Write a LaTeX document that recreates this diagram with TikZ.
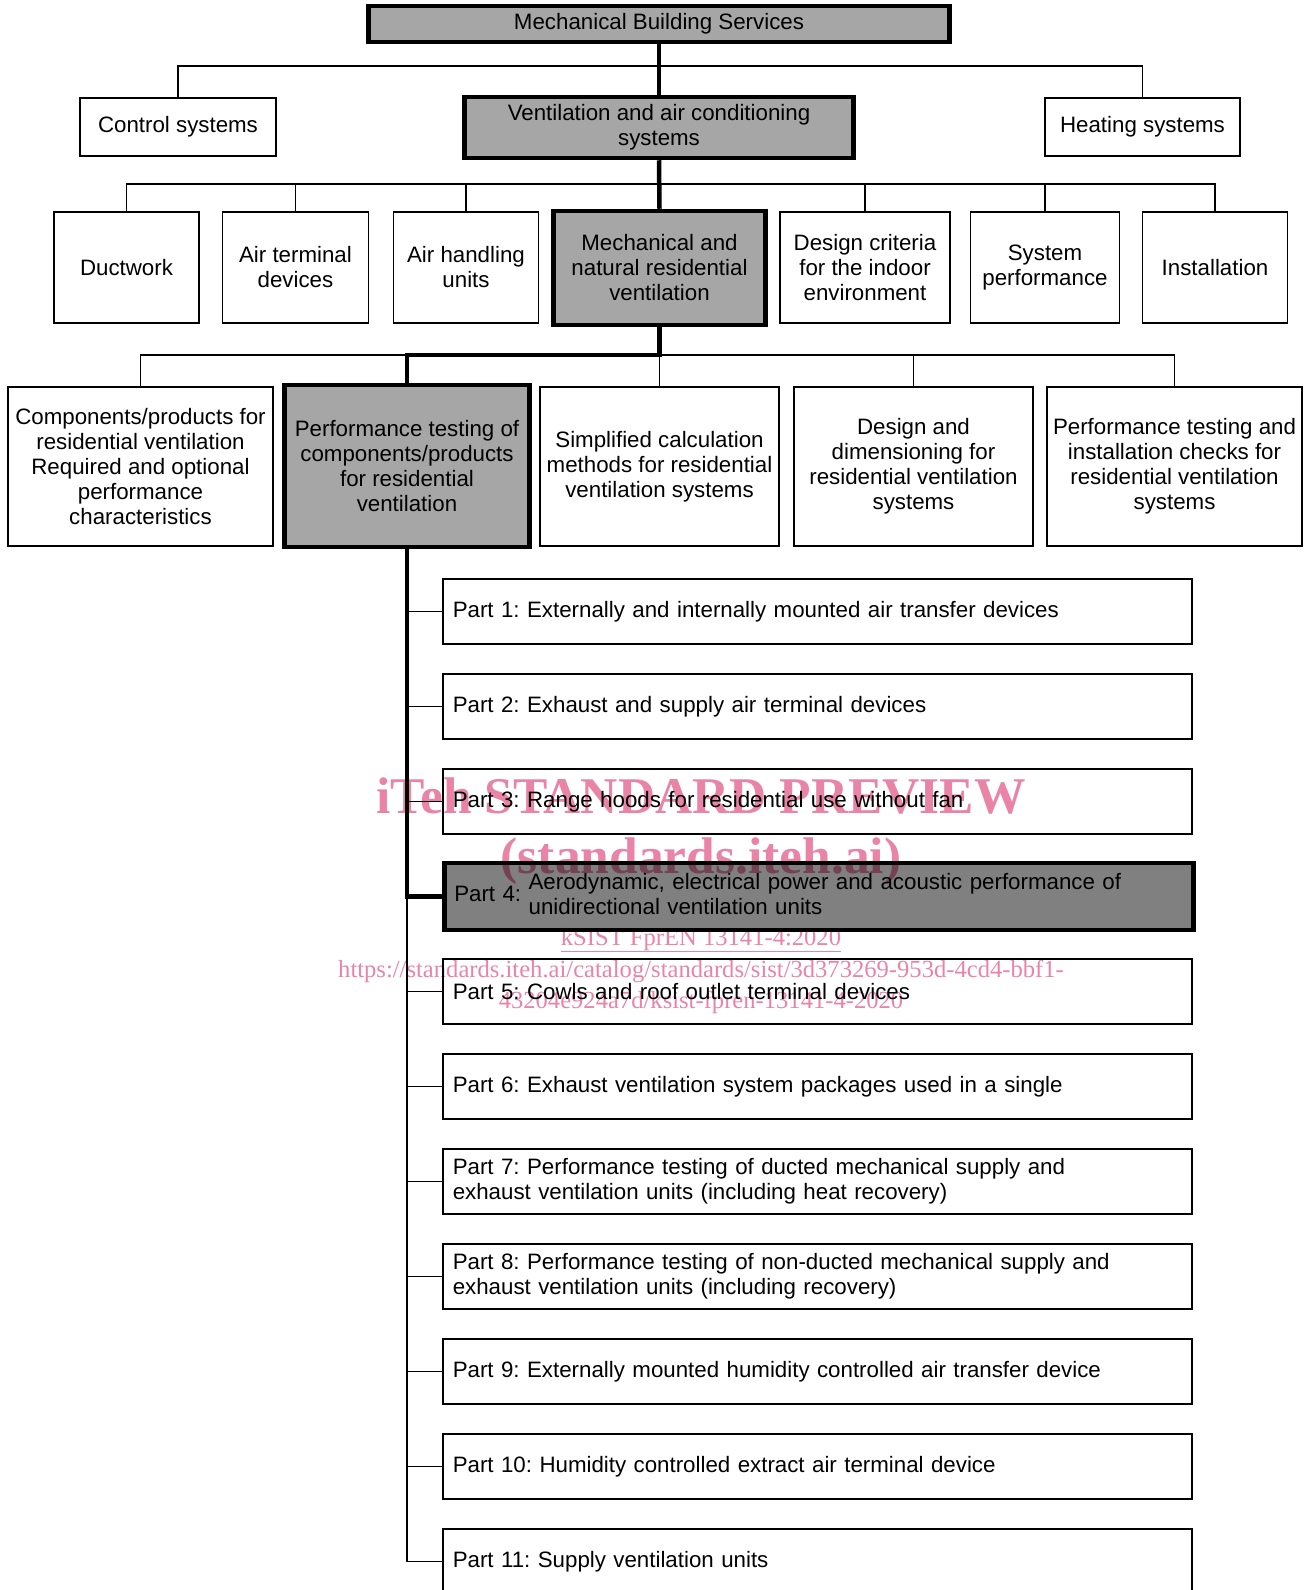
\documentclass[tikz,border=0pt]{standalone}
\usepackage{fontspec}
\setmainfont{Liberation Sans}
\newfontfamily\wmfont{Liberation Serif}
\usetikzlibrary{positioning}
\definecolor{boxgray}{RGB}{166,166,166}
\definecolor{partgray}{RGB}{128,128,128}
\definecolor{wmpink}{RGB}{234,132,166}
\newcommand{\bodyfont}{\fontsize{22.3}{25}\selectfont}
\frenchspacing

\begin{document}
\begin{tikzpicture}[
		x=1pt, y=-1pt,
		box/.style={draw, line width=1.5pt, align=center, inner sep=0pt, font=\bodyfont},
		keybox/.style={box, line width=4.5pt, fill=boxgray},
		part/.style={draw, line width=1.5pt, anchor=west, minimum width=749pt, minimum height=65pt, text width=729pt, inner xsep=10pt, inner ysep=0pt, align=left, font=\bodyfont},
		link/.style={line width=1.5pt},
		trunk/.style={line width=4.5pt},
		mark1/.style={font=\wmfont\bfseries\fontsize{51.5}{56}\selectfont, text=wmpink, anchor=base, inner sep=0pt},
		mark2/.style={font=\wmfont\fontsize{24.6}{28}\selectfont, text=wmpink, anchor=base, inner sep=0pt},
	]
	\useasboundingbox (0,0) rectangle (1304,1590);
	\clip (0,0) rectangle (1304,1590);

	% level 0 and 1
	\node[keybox, minimum width=581pt, minimum height=36pt] (mbs) at (659, 24) {Mechanical Building Services};
	\node[box, minimum width=196pt, minimum height=58pt] (ctrl) at (178, 127) {Control systems};
	\node[keybox, minimum width=389pt, minimum height=61pt] (vac) at (659, 127.5) {Ventilation and air conditioning\\systems};
	\node[box, minimum width=195pt, minimum height=58pt] (heat) at (1142.5, 127) {Heating systems};

	% level 2
	\node[box, minimum width=145pt, minimum height=111pt] (duct) at (126.5, 267.5) {Ductwork};
	\node[box, minimum width=146pt, minimum height=111pt] (term) at (295.5, 267.5) {Air terminal\\devices};
	\node[box, minimum width=145pt, minimum height=111pt] (ahu) at (466, 267.5) {Air handling\\units};
	\node[keybox, minimum width=212pt, minimum height=114pt] (mnrv) at (659.5, 268) {Mechanical and\\natural residential\\ventilation};
	\node[box, minimum width=170pt, minimum height=111pt] (crit) at (865, 267.5) {Design criteria\\for the indoor\\environment};
	\node[box, minimum width=149pt, minimum height=111pt] (sysp) at (1045, 267.5) {System\\performance};
	\node[box, minimum width=145pt, minimum height=111pt] (inst) at (1215, 267.5) {Installation};

	% level 3
	\node[box, minimum width=265pt, minimum height=159pt] (comp) at (140.5, 466.5) {Components/products for\\residential ventilation\\Required and optional\\performance\\characteristics};
	\node[keybox, minimum width=245pt, minimum height=162pt] (perf) at (407, 466) {Performance testing of\\components/products\\for residential\\ventilation};
	\node[box, minimum width=239pt, minimum height=159pt] (simp) at (659.5, 466.5) {Simplified calculation\\methods for residential\\ventilation systems};
	\node[box, minimum width=239pt, minimum height=159pt] (dim) at (913.5, 466.5) {Design and\\dimensioning for\\residential ventilation\\systems};
	\node[box, minimum width=255pt, minimum height=159pt] (chk) at (1174.5, 466.5) {Performance testing and\\installation checks for\\residential ventilation\\systems};

	% parts
	\node[part] (p1) at (442, 611.5) {Part 1: Externally and internally mounted air transfer devices};
	\node[part] (p2) at (442, 706.5) {Part 2: Exhaust and supply air terminal devices};
	\node[part] (p3) at (442, 801.5) {Part 3: Range hoods for residential use without fan};
	\node[part, line width=4.5pt, fill=partgray, minimum height=67pt] (p4) at (442, 896.5) {Part 4: \begin{tabular}[c]{@{}l@{}}Aerodynamic, electrical power and acoustic performance of\\unidirectional ventilation units\end{tabular}};
	\node[part] (p5) at (442, 991.5) {Part 5: Cowls and roof outlet terminal devices};
	\node[part] (p6) at (442, 1086.5) {Part 6: Exhaust ventilation system packages used in a single};
	\node[part] (p7) at (442, 1181.5) {Part 7: Performance testing of ducted mechanical supply and\\exhaust ventilation units (including heat recovery)};
	\node[part] (p8) at (442, 1276.5) {Part 8: Performance testing of non-ducted mechanical supply and\\exhaust ventilation units (including recovery)};
	\node[part] (p9) at (442, 1371.5) {Part 9: Externally mounted humidity controlled air transfer device};
	\node[part] (p10) at (442, 1466.5) {Part 10: Humidity controlled extract air terminal device};
	\node[part] (p11) at (442, 1561.5) {Part 11: Supply ventilation units};

	% bus points
	\coordinate (bus1) at (659.5, 66);
	\coordinate (bus2) at (659.5, 184);
	\coordinate (bus3) at (659.5, 355);

	% thin connectors
	\draw[link] (ctrl.north) |- (bus1) -| (heat.north);
	\draw[link] (duct.north) |- (bus2) -| (inst.north);
	\foreach \n in {term, ahu, crit, sysp}
		\draw[link] (\n.north) |- (bus2);
	\draw[link] (comp.north) |- (bus3) -| (chk.north);
	\foreach \n in {simp, dim}
		\draw[link] (\n.north) |- (bus3);
	\foreach \n in {p1, p2, p3, p5, p6, p7, p8, p9, p10, p11}
		\draw[link] (perf.south) |- (\n.west);

	% main path
	\draw[trunk] (mbs.south) -- (vac.north);
	\draw[trunk] (vac.south) -- (mnrv.north);
	\draw[trunk] (mnrv.south) -- (bus3) -| (perf.north);
	\draw[trunk] (perf.south) |- (p4.west);

	% watermark
	\begin{scope}[blend mode=multiply]
		\node[mark1] (wm1) at (701, 813) {iTeh STANDARD PREVIEW};
		\node[mark1] (wm2) at (701, 873) {(standards.iteh.ai)};
		\node[mark2] (wm3) at (701, 945) {\underline{kSIST FprEN 13141-4:2020}};
		\node[mark2] (wm4) at (701, 977) {https://standards.iteh.ai/catalog/standards/sist/3d373269-953d-4cd4-bbf1-};
		\node[mark2] (wm5) at (701, 1008) {43204e924a7d/ksist-fpren-13141-4-2020};
	\end{scope}
\end{tikzpicture}
\end{document}
